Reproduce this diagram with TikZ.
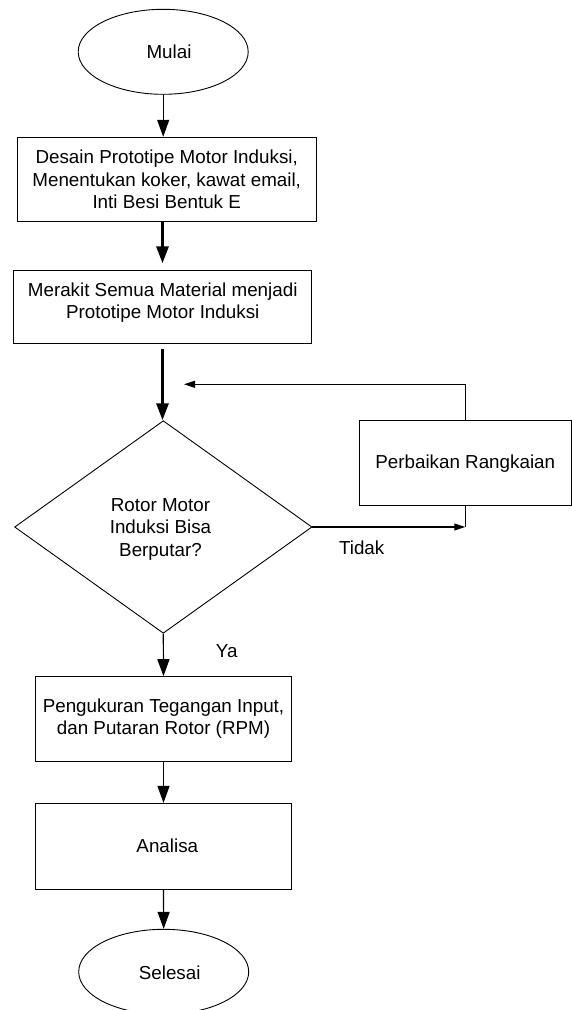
\documentclass[tikz,border=0pt]{standalone}
\usepackage{fontspec}
\setmainfont{Liberation Sans}
\usetikzlibrary{shapes.geometric,arrows.meta}
\begin{document}
\begin{tikzpicture}[x=1pt,y=-1pt,
  every node/.style={font=\fontsize{18.8}{22.6}\selectfont, align=center, inner sep=0pt},
  shapebox/.style={draw, line width=0.9pt, rectangle},
  terminal/.style={draw, line width=0.9pt, ellipse, minimum width=170pt, minimum height=85pt},
  decision/.style={draw, line width=0.9pt, diamond, minimum width=297.4pt, minimum height=212.6pt},
  flow/.style={line width=1.2pt, -{Triangle[length=17pt,width=12pt]}},
  thickflow/.style={line width=3pt, -{Triangle[length=17pt,width=12pt]}},
  backflow/.style={line width=1.1pt, -{Triangle[length=11pt,width=7pt]}},
  plainline/.style={line width=1.1pt},
  txt/.style={}
]
\useasboundingbox (0,0) rectangle (572,1010);

% nodes
\node[terminal] (start) at (163.2,51.8) {};
\node[txt] (startt) at (169,51.7) {Mulai};

\node[shapebox, minimum width=298.7pt, minimum height=84.4pt] (b1) at (166.7,179.5)
  {Desain Prototipe Motor Induksi,\\Menentukan koker, kawat email,\\Inti Besi Bentuk E};

\node[shapebox, minimum width=298.4pt, minimum height=72.6pt] (b2) at (162.5,307) {};
\node[txt] (b2t) at (162.7,302.5) {Merakit Semua Material menjadi\\Prototipe Motor Induksi};

\node[decision] (d) at (163.3,527) {};
\node[txt] (dt) at (160.5,529.2) {Rotor Motor\\Induksi Bisa\\Berputar?};

\node[shapebox, minimum width=211.5pt, minimum height=85pt] (fix) at (465.25,463.2) {Perbaikan Rangkaian};

\node[shapebox, minimum width=256.2pt, minimum height=84.3pt] (p) at (163.5,718.8)
  {Pengukuran Tegangan Input,\\dan Putaran Rotor (RPM)};

\node[shapebox, minimum width=256.2pt, minimum height=85.7pt] (a) at (163.5,846.2) {};
\node[txt] (at) at (167.3,846) {Analisa};

\node[terminal] (end) at (163.7,971.8) {};
\node[txt] (endt) at (169.7,972.7) {Selesai};

\node[txt] (tidak) at (361.7,548) {Tidak};
\node[txt] (ya) at (226.7,651) {Ya};

% free ends
\coordinate (c1) at (162.5,263.3);
\coordinate (c2) at (162.5,349.3);
\coordinate (c3) at (184,384.3);

% connectors
\draw[flow] (start.south) -- (start.south |- b1.north);
\draw[thickflow] (c1 |- b1.south) -- (c1);
\draw[thickflow] (c2) -- (c2 |- d.north);
\draw[plainline] (fix.north) -- (fix.north |- c3);
\draw[backflow] (fix.north |- c3) -- (c3);
\draw[backflow] (d.east) -- (fix.south |- d.east);
\draw[plainline] (fix.south) -- (fix.south |- d.east);
\draw[flow] (d.south) -- (p.north);
\draw[flow] (p.south) -- (a.north);
\draw[flow] (a.south) -- (end.north);
\end{tikzpicture}
\end{document}
